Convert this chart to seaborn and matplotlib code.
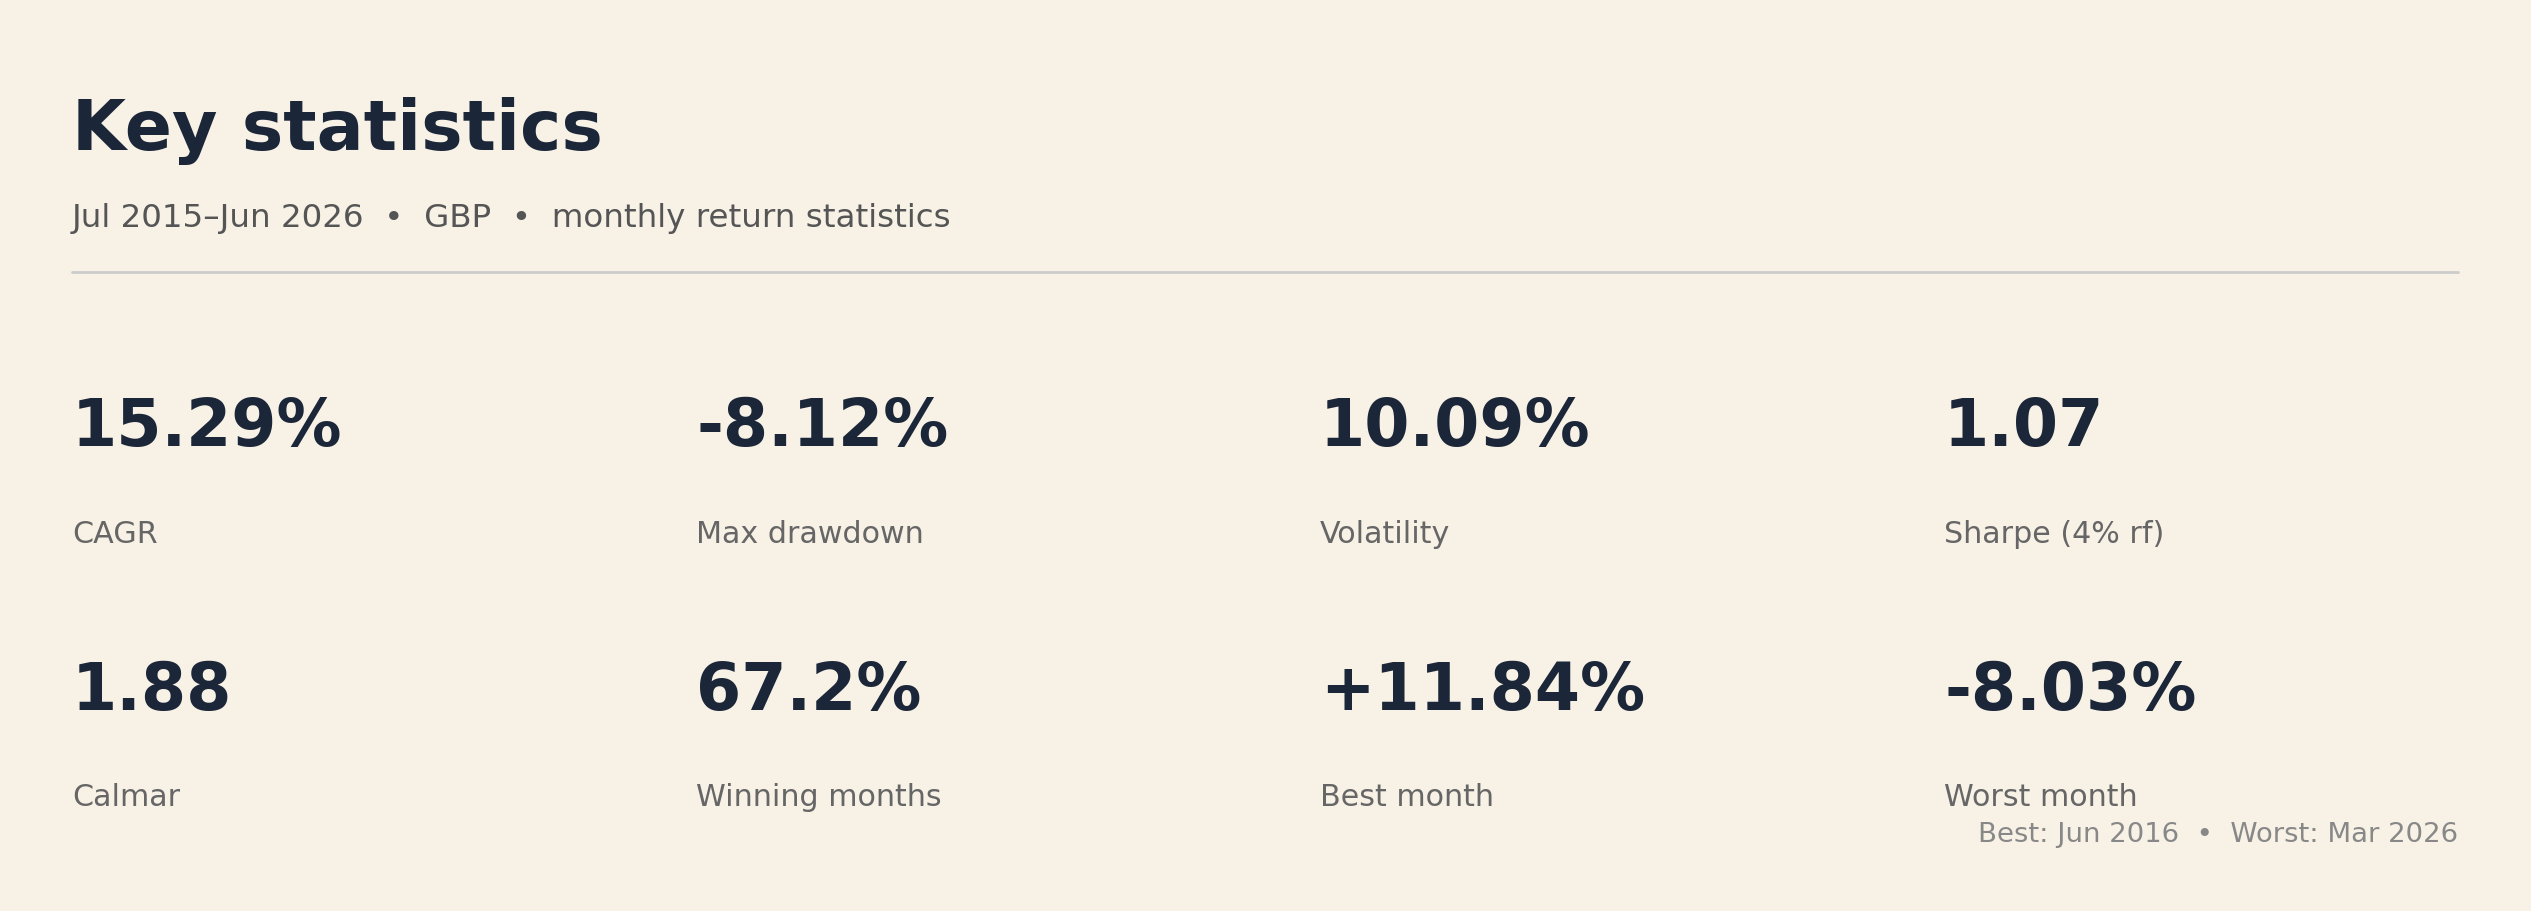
import matplotlib
matplotlib.use("Agg")
import matplotlib.pyplot as plt
import seaborn as sns

# ---- data ----
title = "Key statistics"
subtitle = "Jul 2015\u2013Jun 2026  \u2022  GBP  \u2022  monthly return statistics"
stat_values = ["15.29%", "-8.12%", "10.09%", "1.07",
               "1.88", "67.2%", "+11.84%", "-8.03%"]
stat_labels = ["CAGR", "Max drawdown", "Volatility", "Sharpe (4% rf)",
               "Calmar", "Winning months", "Best month", "Worst month"]
footer = "Best: Jun 2016  \u2022  Worst: Mar 2026"

# ---- style ----
BG = "#F7F1E6"
NAVY = "#1B2638"
sns.set_theme(style="white", rc={"figure.facecolor": BG, "axes.facecolor": BG})
plt.rcParams["font.family"] = ["DejaVu Sans"]

W, H = 2531, 911
fig = plt.figure(figsize=(W / 200, H / 200), dpi=200)
ax = fig.add_axes([0, 0, 1, 1])
ax.set_xlim(0, 1)
ax.set_ylim(0, 1)
ax.axis("off")

left = 72 / W
right = 2458 / W
col_x = [72 / W, 696 / W, 1320 / W, 1944 / W]
row_val_y = [1 - 446 / H, 1 - 710 / H]
row_lab_y = [1 - 543 / H, 1 - 806 / H]

ax.text(left, 1 - 150 / H, title, fontsize=25.1, fontweight="bold", color=NAVY,
        ha="left", va="baseline")
ax.text(left, 1 - 227 / H, subtitle, fontsize=11.7, color="#555555",
        ha="left", va="baseline")
sns.lineplot(x=[72 / W, right], y=[1 - 272 / H] * 2, ax=ax, color="#CCCCCC",
             linewidth=1.0)

for i, (v, lab) in enumerate(zip(stat_values, stat_labels)):
    r, c = divmod(i, 4)
    ax.text(col_x[c], row_val_y[r], v, fontsize=23.4, fontweight="bold",
            color=NAVY, ha="left", va="baseline")
    ax.text(col_x[c], row_lab_y[r], lab, fontsize=10.85, color="#666666",
            ha="left", va="baseline")

ax.text(right, 1 - 842 / H, footer, fontsize=9.9, color="#888888",
        ha="right", va="baseline")

fig.savefig("out.png", dpi=200, facecolor=BG)
